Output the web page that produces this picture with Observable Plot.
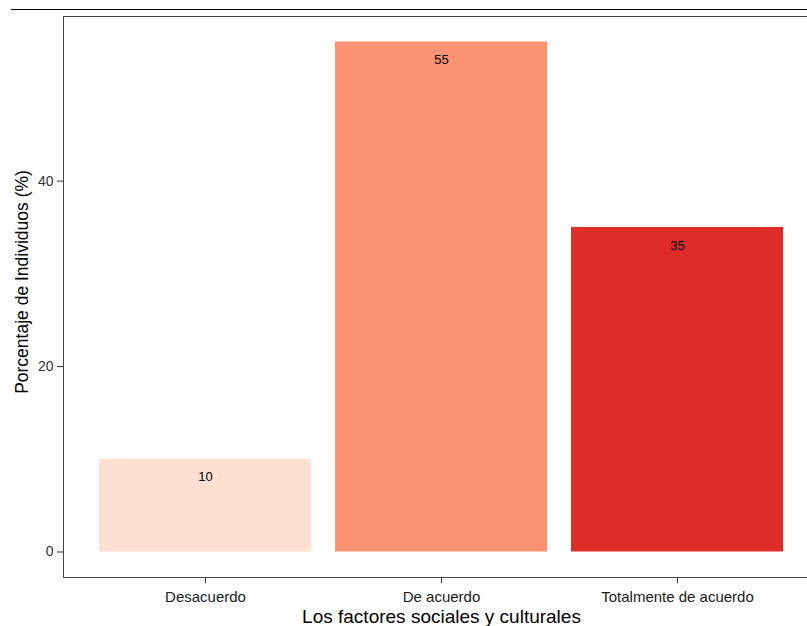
<!DOCTYPE html>
<html>
<head>
<meta charset="utf-8">
<script src="https://cdn.jsdelivr.net/npm/d3@7"></script>
<script src="https://cdn.jsdelivr.net/npm/@observablehq/plot@0.6"></script>
<style>
  html, body { margin: 0; padding: 0; background: #fff; overflow: hidden; }
  #chart { position: relative; width: 807px; height: 626px; overflow: hidden; }
  #chart svg { max-width: none !important; display: block; }
  #topline { position: absolute; left: 11px; top: 9px; width: 796px; height: 0; border-top: 1.5px solid #000; }
</style>
</head>
<body>
<div id="chart"><div id="topline"></div></div>
<script>
const categories = ["Desacuerdo", "De acuerdo", "Totalmente de acuerdo"];
const values = [10, 55, 35];
const colors = ["#FEE0D2", "#FC9272", "#DE2D26"];
const xTitle = "Los factores sociales y culturales";
const yTitle = "Porcentaje de Individuos (%)";
const yTicks = [0, 20, 40];

const data = categories.map((c, i) => ({category: c, value: values[i]}));
const font = "'Liberation Sans', Arial, sans-serif";

const plot = Plot.plot({
  width: 819,
  height: 626,
  marginLeft: 63,
  marginRight: 0,
  marginTop: 16,
  marginBottom: 49,
  style: {fontFamily: font, background: "transparent", overflow: "visible", maxWidth: "none"},
  x: {domain: categories, paddingInner: 0.1, paddingOuter: 0.15, label: null},
  y: {domain: [-2.75, 57.75], label: null},
  color: {domain: categories, range: colors},
  marks: [
    Plot.barY(data, {x: "category", y1: 0, y2: "value", fill: "category"}),
    Plot.text(data, {x: "category", y: "value", text: d => String(d.value), dy: 18, fontSize: 13, fill: "#000"}),
    Plot.frame({stroke: "#444", strokeWidth: 1}),
    Plot.axisX({tickSize: 6, tickPadding: 8, fontSize: 15, stroke: "#333", color: "#1a1a1a", label: null}),
    Plot.axisY({ticks: yTicks, tickSize: 6, tickPadding: 4, fontSize: 14, stroke: "#333", color: "#333", label: null}),
    Plot.text([xTitle], {frameAnchor: "bottom", textAnchor: "middle", lineAnchor: "middle", dy: 39, fontSize: 19, fill: "#000"}),
    Plot.text([yTitle], {frameAnchor: "left", textAnchor: "middle", lineAnchor: "middle", dx: -41, dy: -15, rotate: -90, fontSize: 17.5, fill: "#000"})
  ]
});
document.getElementById("chart").appendChild(plot);
</script>
</body>
</html>
